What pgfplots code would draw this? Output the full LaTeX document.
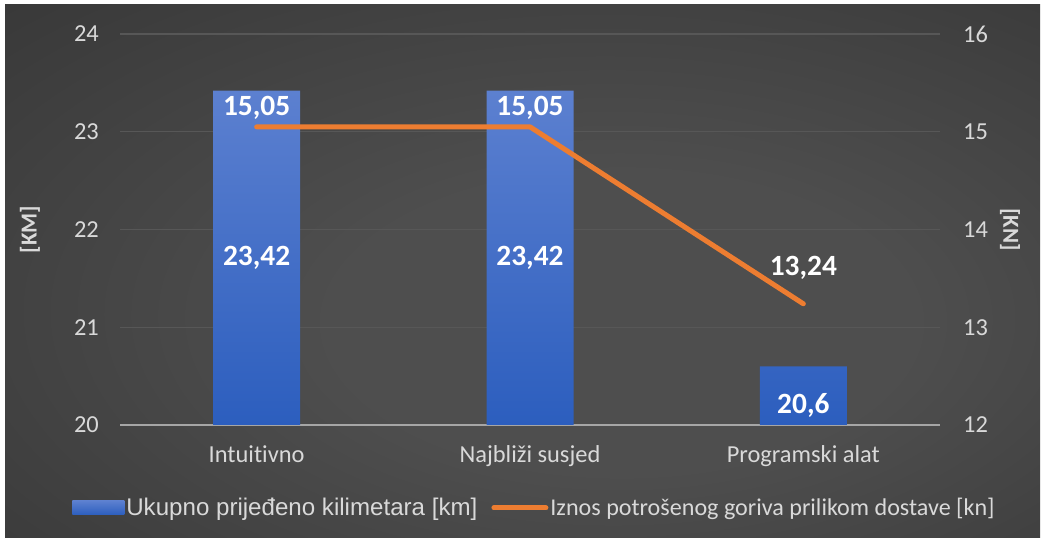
\documentclass[border=0pt]{standalone}
\usepackage{pgfplots}
\pgfplotsset{compat=1.18}
\usepackage{pgfplotstable}
\usepackage{fontspec}
\setmainfont{Carlito}[Ligatures=NoCommon]
\newfontfamily\arialfont{Liberation Sans}

\definecolor{bgdark}{HTML}{212121}
\definecolor{bgmid}{HTML}{303030}
\definecolor{bglight}{HTML}{4E4E4E}
\definecolor{tickgray}{HTML}{D9D9D9}
\definecolor{gridgray}{HTML}{575757}
\definecolor{axisgray}{HTML}{A6A6A6}
\definecolor{bartop}{RGB}{92,128,208}
\definecolor{barbottom}{RGB}{44,94,190}
\definecolor{fuelorange}{HTML}{ED7D31}

\pgfdeclareradialshading{chartbg}{\pgfpoint{6bp}{-6bp}}{%
  color(0bp)=(bglight); color(14bp)=(bglight); color(50bp)=(bgmid); color(72bp)=(bgdark)}

% ukupno prijedeno kilimetara [km]
\pgfplotstableread{
x km
0 23.42
1 23.42
2 20.6
}\kmdata
% iznos potrosenog goriva [kn]
\pgfplotstableread{
x kn
0 15.05
1 15.05
2 13.24
}\kndata

\begin{document}
\begin{tikzpicture}
  \fill[white] (0bp,0bp) rectangle (1045bp,543bp);
  \shade[shading=chartbg] (5bp,5bp) rectangle (1040bp,538bp);

  % bars, left axis (plotted as km-20 so the bars start at 20)
  \begin{axis}[
      at={(120bp,118bp)}, anchor=south west,
      scale only axis, width=820bp, height=391bp,
      xmin=-0.5, xmax=2.5, ymin=0, ymax=4,
      ytick={0,1,2,3,4},
      yticklabels={20,21,22,23,24},
      xtick={0,1,2},
      xticklabels={Intuitivno, Najbliži susjed, Programski alat},
      axis x line*=bottom, axis y line*=left,
      x axis line style={draw=axisgray, line width=2bp, -},
      y axis line style={draw=none},
      major tick length=0pt,
      ymajorgrids, grid style={gridgray, line width=1.2bp},
      tick label style={font=\fontsize{24.5}{28}\selectfont, text=tickgray},
      /pgf/number format/assume math mode=true,
      yticklabel style={inner sep=0pt, xshift=-21bp},
      xticklabel style={inner sep=0pt, anchor=base, yshift=-38bp},
      ylabel={[KM]},
      every axis y label/.style={at={(axis description cs:-0.1098,0.5)},
          rotate=90, anchor=center,
          font=\fontsize{23}{27}\selectfont\bfseries, text=tickgray},
    ]
    \addplot[ybar, bar width=87bp, draw=none,
      top color=bartop, bottom color=barbottom]
      table[x=x, y expr=\thisrow{km}-20] {\kmdata};

    \node[text=white, font=\fontsize{29.5}{33}\selectfont\bfseries] at (axis cs:0,1.708) {23,42};
    \node[text=white, font=\fontsize{29.5}{33}\selectfont\bfseries] at (axis cs:1,1.708) {23,42};
    \node[text=white, font=\fontsize{29.5}{33}\selectfont\bfseries] at (axis cs:2,0.205) {20,6};
  \end{axis}

  % fuel line, right axis
  \begin{axis}[
      at={(120bp,118bp)}, anchor=south west,
      scale only axis, width=820bp, height=391bp,
      xmin=-0.5, xmax=2.5, ymin=12, ymax=16,
      ytick={12,13,14,15,16},
      axis x line=none, axis y line*=right,
      y axis line style={draw=none},
      major tick length=0pt,
      tick label style={font=\fontsize{24.5}{28}\selectfont, text=tickgray},
      /pgf/number format/assume math mode=true,
      yticklabel style={inner sep=0pt, xshift=23bp},
      ylabel={[KN]},
      every axis y label/.style={at={(axis description cs:1.0854,0.5)},
          rotate=-90, anchor=center,
          font=\fontsize{23}{27}\selectfont\bfseries, text=tickgray},
      clip=false,
      legend columns=2,
      legend cell align=left,
      legend style={
          at={(0.5055,-0.212)}, anchor=center,
          draw=none, fill=none, text=tickgray,
          /tikz/every even column/.append style={column sep=12bp},
          nodes={inner sep=2bp},
        },
    ]
    \addlegendimage{legend image code/.code={
        \shade[draw=none, top color=bartop, bottom color=barbottom] (0bp,-7bp) rectangle (52bp,7bp);}}
    \addlegendentry{\arialfont\fontsize{24.2}{28}\selectfont Ukupno prijeđeno kilimetara [km]}

    \addplot[fuelorange, line width=5bp, line cap=round, line join=round,
      legend image code/.code={
        \draw[fuelorange, line width=5bp, line cap=round] (3bp,0bp) -- (55bp,0bp);}]
      table[x=x, y=kn] {\kndata};
    \addlegendentry{\fontsize{24.2}{28}\selectfont Iznos potrošenog goriva prilikom dostave [kn]}

    \node[text=white, font=\fontsize{29.5}{33}\selectfont\bfseries] at (axis cs:0,15.243) {15,05};
    \node[text=white, font=\fontsize{29.5}{33}\selectfont\bfseries] at (axis cs:1,15.243) {15,05};
    \node[text=white, font=\fontsize{29.5}{33}\selectfont\bfseries] at (axis cs:2,13.606) {13,24};
  \end{axis}
\end{tikzpicture}
\end{document}
